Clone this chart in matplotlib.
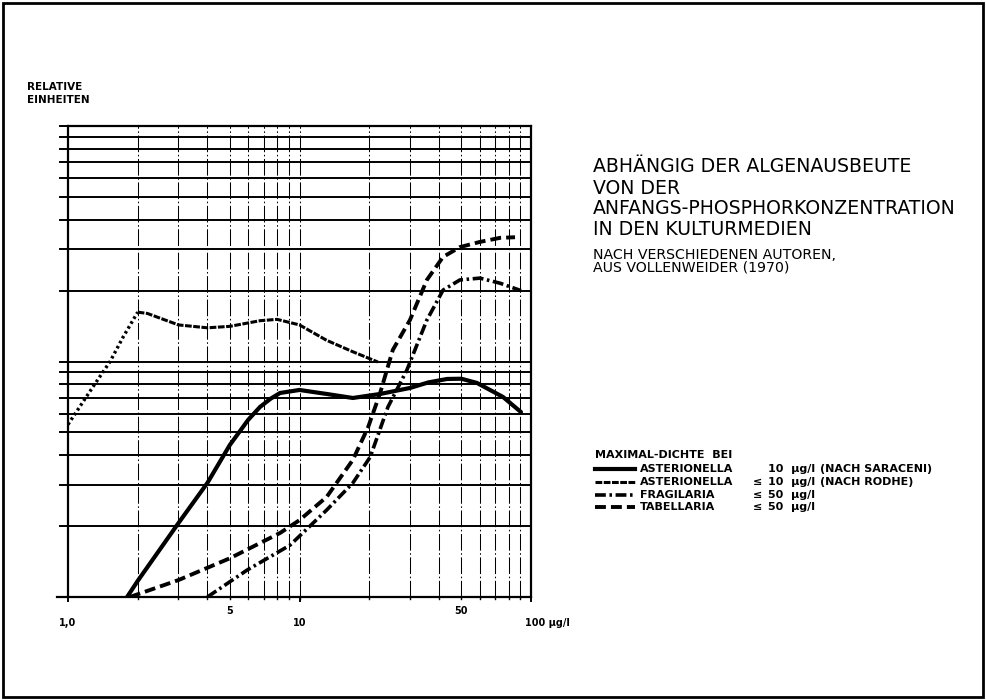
import matplotlib
matplotlib.use('Agg')
import matplotlib.pyplot as plt
from matplotlib.patches import Rectangle
from matplotlib.ticker import NullFormatter, NullLocator

# phosphorus concentration (ug/l) vs. relative algal yield
sar_x = [1.80, 2.0, 3.0, 4.0, 5.0, 6.0, 6.75, 7.5, 8.24, 10.0, 13.1, 17.0, 22.3, 30.0, 36.0, 43.4, 50.0, 58.4, 75.7, 90.5]
sar_y = [1.0, 1.17, 2.06, 3.05, 4.42, 5.65, 6.41, 6.95, 7.35, 7.57, 7.28, 7.0, 7.28, 7.72, 8.15, 8.43, 8.45, 8.11, 7.07, 6.10]

rodhe_x = [1.0, 1.28, 1.52, 1.73, 2.0, 2.2, 3.0, 4.0, 5.0, 6.75, 8.0, 10.0, 13.1, 17.0, 21.8]
rodhe_y = [5.4, 7.79, 10.0, 12.7, 16.2, 16.0, 14.3, 13.9, 14.1, 14.9, 15.1, 14.3, 12.3, 11.0, 9.95]

frag_x = [4.0, 5.93, 9.1, 13.1, 17.0, 20.2, 24.1, 29.1, 35.5, 41.7, 49.3, 60.2, 73.5, 90.5]
frag_y = [1.0, 1.30, 1.66, 2.34, 3.05, 3.93, 6.41, 9.2, 15.0, 20.1, 22.2, 22.6, 21.5, 20.0]

tab_x = [1.85, 3.0, 5.0, 8.24, 10.0, 13.1, 17.0, 19.8, 22.3, 25.3, 30.0, 35.5, 41.7, 49.3, 60.2, 73.5, 85.3]
tab_y = [1.0, 1.18, 1.46, 1.87, 2.12, 2.66, 3.82, 5.27, 7.35, 11.2, 15.0, 22.2, 27.8, 30.6, 32.2, 33.5, 33.7]

grid_vals = [2, 3, 4, 5, 6, 7, 8, 9, 10, 20, 30, 40, 50, 60, 70, 80, 90]
xlabels = [(1, '1,0', 0), (5, '5', 1), (10, '10', 0), (50, '50', 1)]

title_lines = ['ABHÄNGIG DER ALGENAUSBEUTE', 'VON DER',
               'ANFANGS-PHOSPHORKONZENTRATION', 'IN DEN KULTURMEDIEN']
sub_lines = ['NACH VERSCHIEDENEN AUTOREN,', 'AUS VOLLENWEIDER (1970)']

leg_names = ['ASTERIONELLA', 'ASTERIONELLA', 'FRAGILARIA', 'TABELLARIA']
leg_rel = ['', '≤', '≤', '≤']
leg_vals = ['10', '10', '50', '50']
leg_src = ['(NACH SARACENI)', '(NACH RODHE)', '', '']

styles = [
    dict(ls='-', lw=3.0),
    dict(ls=(0, (2.2, 0.5)), lw=2.2),
    dict(ls=(0, (3.0, 1.0, 0.7, 1.0)), lw=2.6),
    dict(ls=(0, (2.8, 1.3)), lw=2.8),
]

W, H = 986, 700
fig = plt.figure(figsize=(W / 100, H / 100), dpi=100)
ax = fig.add_axes([68 / W, 1 - 597 / H, (531 - 68) / W, (597 - 126) / H])
ax.set_xscale('log')
ax.set_yscale('log')
ax.set_xlim(1, 100)
ax.set_ylim(1, 100)

for v in grid_vals:
    ax.axvline(v, color='k', lw=0.75, ls=(0, (16, 2.5, 1.5, 2.5)), zorder=1)
    ax.axhline(v, color='k', lw=1.4, zorder=1)

for s in ax.spines.values():
    s.set_linewidth(1.6)
ax.xaxis.set_major_locator(NullLocator())
ax.xaxis.set_minor_locator(NullLocator())
ax.yaxis.set_major_locator(NullLocator())
ax.yaxis.set_minor_locator(NullLocator())
ax.xaxis.set_major_formatter(NullFormatter())

# little crosses where grid lines meet the axes
for v in grid_vals + [100]:
    ax.plot([0.92, 1.0], [v, v], color='k', lw=1.4, clip_on=False)
ax.plot([0.9, 1.0], [1, 1], color='k', lw=1.6, clip_on=False)
for v in grid_vals:
    ax.plot([v, v], [0.985, 1.0], color='k', lw=1.0, clip_on=False)
for v in [1, 10, 100]:
    ax.plot([v, v], [0.96, 1.0], color='k', lw=1.4, clip_on=False)

ax.plot(sar_x, sar_y, color='k', solid_capstyle='round', **styles[0])
# Rodhe curve: dotted rise, then densely dashed
ax.plot(rodhe_x[:5], rodhe_y[:5], color='k', ls=(0, (0.8, 0.9)), lw=2.4)
ax.plot(rodhe_x[4:], rodhe_y[4:], color='k', **styles[1])
ax.plot(frag_x, frag_y, color='k', **styles[2])
ax.plot(tab_x, tab_y, color='k', **styles[3])

for x, lab, up in xlabels:
    ax.annotate(lab, (x, 1), xycoords=('data', 'data'), xytext=(0, -10 if up else -19),
                textcoords='offset points', ha='center', va='center',
                fontsize=7, fontweight='bold')
ax.annotate('100 µg/l', (100, 1), xytext=(-4, -19), textcoords='offset points',
            ha='left', va='center', fontsize=7, fontweight='bold')

fig.text(27 / W, 1 - 87 / H, 'RELATIVE', fontsize=7.5, fontweight='bold', va='center')
fig.text(27 / W, 1 - 100 / H, 'EINHEITEN', fontsize=7.5, fontweight='bold', va='center')

for i, line in enumerate(title_lines):
    fig.text(593 / W, 1 - (167 + 21 * i) / H, line, fontsize=13.6, va='center')
for i, line in enumerate(sub_lines):
    fig.text(593 / W, 1 - (255 + 13 * i) / H, line, fontsize=10.2, va='center')

fig.text(595 / W, 1 - 455 / H, 'MAXIMAL-DICHTE  BEI', fontsize=8, fontweight='bold', va='center')
for i in range(4):
    yy = 1 - (469 + 12.8 * i) / H
    fig.add_artist(plt.Line2D([595 / W, 635 / W], [yy, yy], color='k', **styles[i]))
    fig.text(640 / W, yy, leg_names[i], fontsize=8, fontweight='bold', va='center')
    fig.text(753 / W, yy, leg_rel[i], fontsize=8, fontweight='bold', va='center')
    fig.text(768 / W, yy, leg_vals[i] + '  µg/l', fontsize=8, fontweight='bold', va='center')
    fig.text(820 / W, yy, leg_src[i], fontsize=8, fontweight='bold', va='center')

# page frame
fig.add_artist(Rectangle((3 / W, 3 / H), 980 / W, 694 / H, transform=fig.transFigure,
                         fill=False, lw=2, ec='k'))

fig.savefig('out.png', dpi=100)
